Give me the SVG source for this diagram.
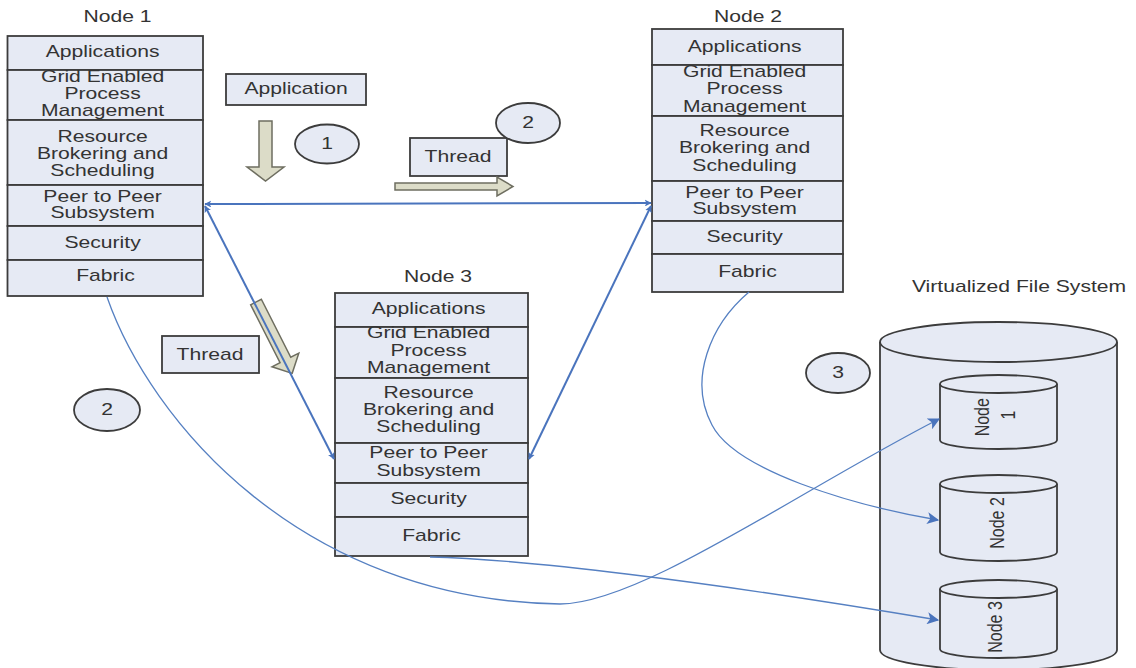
<svg xmlns="http://www.w3.org/2000/svg" width="1136" height="668" viewBox="0 0 1136 668">
  <style>
    .box { fill: #e6eaf4; stroke: #3c3c3c; stroke-width: 1.8; }
    .t { font-family: "Liberation Sans", Arial, sans-serif; font-size: 16px; fill: #333; text-anchor: middle; }
    .fat { fill: #dcdcc8; stroke: #6e6e60; stroke-width: 1.5; stroke-linejoin: miter; }
    .link { fill: none; stroke: #4a74bd; stroke-width: 2; marker-start: url(#head); marker-end: url(#head); }
    .curve { fill: none; stroke: #5680c2; stroke-width: 1.3; marker-end: url(#head2); }
    .disk { fill: #e6eaf4; stroke: #3c3c3c; stroke-width: 1.8; }
  </style>
  <defs>
    <marker id="head" viewBox="0 0 10 10" refX="9" refY="5" markerWidth="7" markerHeight="7" markerUnits="userSpaceOnUse" orient="auto-start-reverse">
      <path d="M0,0 L10,5 L0,10 L2.5,5 Z" fill="#4a74bd"/>
    </marker>
    <marker id="head2" viewBox="0 0 10 10" refX="9" refY="5" markerWidth="14" markerHeight="12" markerUnits="userSpaceOnUse" orient="auto">
      <path d="M0,0 L10,5 L0,10 L2.5,5 Z" fill="#4a74bd"/>
    </marker>
  </defs>

  <rect width="1136" height="668" fill="#ffffff"/>

  <!-- Node 1 layer stack -->
  <g id="node1">
    <text class="t" transform="translate(117.5,0) scale(1.32,1)" x="0" y="22.5">Node 1</text>
    <rect class="box" x="7.5" y="36" width="195.5" height="34"/>
    <rect class="box" x="7.5" y="70" width="195.5" height="50"/>
    <rect class="box" x="7.5" y="120" width="195.5" height="65"/>
    <rect class="box" x="7.5" y="185" width="195.5" height="41"/>
    <rect class="box" x="7.5" y="226" width="195.5" height="34"/>
    <rect class="box" x="7.5" y="260" width="195.5" height="36"/>
    <text class="t" transform="translate(105.5,0) scale(1.32,1)">
      <tspan x="0" y="57.5">Applications</tspan>
      <tspan x="0" y="82.5">Grid Enabled</tspan>
      <tspan x="0" y="99.5">Process</tspan>
      <tspan x="0" y="116.5">Management</tspan>
      <tspan x="0" y="142.5">Resource</tspan>
      <tspan x="0" y="159.5">Brokering and</tspan>
      <tspan x="0" y="176.5">Scheduling</tspan>
      <tspan x="0" y="202">Peer to Peer</tspan>
      <tspan x="0" y="218">Subsystem</tspan>
      <tspan x="0" y="248.5">Security</tspan>
      <tspan x="0" y="281.5">Fabric</tspan>
    </text>
  </g>

  <!-- Node 2 layer stack -->
  <g id="node2">
    <text class="t" transform="translate(748,0) scale(1.32,1)" x="0" y="22.5">Node 2</text>
    <rect class="box" x="652" y="29" width="191" height="36"/>
    <rect class="box" x="652" y="65" width="191" height="51"/>
    <rect class="box" x="652" y="116" width="191" height="65"/>
    <rect class="box" x="652" y="181" width="191" height="40"/>
    <rect class="box" x="652" y="221" width="191" height="33"/>
    <rect class="box" x="652" y="254" width="191" height="38"/>
    <text class="t" transform="translate(747.5,0) scale(1.32,1)">
      <tspan x="0" y="52.5">Applications</tspan>
      <tspan x="0" y="77.5">Grid Enabled</tspan>
      <tspan x="0" y="94.5">Process</tspan>
      <tspan x="0" y="112">Management</tspan>
      <tspan x="0" y="136.5">Resource</tspan>
      <tspan x="0" y="153.5">Brokering and</tspan>
      <tspan x="0" y="171">Scheduling</tspan>
      <tspan x="0" y="198.5">Peer to Peer</tspan>
      <tspan x="0" y="214.5">Subsystem</tspan>
      <tspan x="0" y="242.5">Security</tspan>
      <tspan x="0" y="277.5">Fabric</tspan>
    </text>
  </g>

  <!-- Node 3 layer stack -->
  <g id="node3">
    <text class="t" transform="translate(438,0) scale(1.32,1)" x="0" y="282">Node 3</text>
    <rect class="box" x="335" y="293" width="193" height="34"/>
    <rect class="box" x="335" y="327" width="193" height="51"/>
    <rect class="box" x="335" y="378" width="193" height="65"/>
    <rect class="box" x="335" y="443" width="193" height="40"/>
    <rect class="box" x="335" y="483" width="193" height="34"/>
    <rect class="box" x="335" y="517" width="193" height="39"/>
    <text class="t" transform="translate(431.5,0) scale(1.32,1)">
      <tspan x="0" y="314.5">Applications</tspan>
      <tspan x="0" y="338.5">Grid Enabled</tspan>
      <tspan x="0" y="356">Process</tspan>
      <tspan x="0" y="373.5">Management</tspan>
      <tspan x="0" y="398.5">Resource</tspan>
      <tspan x="0" y="415.5">Brokering and</tspan>
      <tspan x="0" y="432.5">Scheduling</tspan>
      <tspan x="0" y="458.5">Peer to Peer</tspan>
      <tspan x="0" y="476">Subsystem</tspan>
      <tspan x="0" y="504.5">Security</tspan>
      <tspan x="0" y="541.5">Fabric</tspan>
    </text>
  </g>

  <!-- Labels and step markers -->
  <g id="application">
    <rect class="box" x="226" y="74" width="140" height="31"/>
    <text class="t" transform="translate(296,0) scale(1.32,1)" x="0" y="94.5">Application</text>
  </g>
  <g id="thread-top">
    <rect class="box" x="410" y="138" width="97" height="38"/>
    <text class="t" transform="translate(458,0) scale(1.32,1)" x="0" y="162">Thread</text>
  </g>
  <g id="thread-left">
    <rect class="box" x="162" y="336" width="97" height="37"/>
    <text class="t" transform="translate(210,0) scale(1.32,1)" x="0" y="360">Thread</text>
  </g>
  <g id="step1">
    <ellipse class="box" cx="327" cy="144" rx="32" ry="19.5"/>
    <text class="t" transform="translate(327,0) scale(1.32,1)" x="0" y="149.5" font-size="15">1</text>
  </g>
  <g id="step2-top">
    <ellipse class="box" cx="528" cy="123" rx="32" ry="20"/>
    <text class="t" transform="translate(528,0) scale(1.32,1)" x="0" y="128.5" font-size="15">2</text>
  </g>
  <g id="step2-left">
    <ellipse class="box" cx="107" cy="410" rx="33" ry="21"/>
    <text class="t" transform="translate(107,0) scale(1.32,1)" x="0" y="415.5" font-size="15">2</text>
  </g>
  <g id="step3">
    <ellipse class="box" cx="838" cy="373" rx="32" ry="20"/>
    <text class="t" transform="translate(838,0) scale(1.32,1)" x="0" y="378.5" font-size="15">3</text>
  </g>

  <!-- Block arrows showing the flow of work -->
  <g id="flow-arrows">
    <polygon class="fat" points="0,-6.5 46,-6.5 46,-18.5 60,0 46,18.5 46,6.5 0,6.5" transform="translate(265.5,121) rotate(90)"/>
    <polygon class="fat" points="0,-3.5 102,-3.5 102,-9.5 118,0 102,9.5 102,3.5 0,3.5" transform="translate(395,186.5)"/>
    <polygon class="fat" points="0,-6 65,-6 65,-15 80,0 65,15 65,6 0,6" transform="translate(256,302) rotate(63.1)"/>
  </g>

  <!-- Virtualized file system -->
  <g id="vfs">
    <text class="t" transform="translate(1019,0) scale(1.32,1)" x="0" y="292">Virtualized File System</text>
    <path class="disk" d="M880,342 A118.5,20 0 0,1 1117,342 L1117,650 A118.5,20 0 0,1 880,650 Z"/>
    <path class="disk" fill="none" d="M880,342 A118.5,20 0 0,0 1117,342"/>
  </g>
  <g id="vfs-node1">
    <path class="disk" d="M940,384 A58.5,9 0 0,1 1057,384 L1057,440 A58.5,9 0 0,1 940,440 Z"/>
    <path class="disk" d="M940,384 A58.5,9 0 0,0 1057,384"/>
    <text class="t" font-size="14" transform="translate(998,415) scale(1.32,1) rotate(-90)">
      <tspan x="0" y="-6.5">Node</tspan>
      <tspan x="0" y="12.5">1</tspan>
    </text>
  </g>
  <g id="vfs-node2">
    <path class="disk" d="M940,484 A58.5,9 0 0,1 1057,484 L1057,552 A58.5,9 0 0,1 940,552 Z"/>
    <path class="disk" d="M940,484 A58.5,9 0 0,0 1057,484"/>
    <text class="t" font-size="14" transform="translate(998,523) scale(1.32,1) rotate(-90)" x="0" y="4.5">Node 2</text>
  </g>
  <g id="vfs-node3">
    <path class="disk" d="M940,589 A58.5,9 0 0,1 1057,589 L1057,649 A58.5,9 0 0,1 940,649 Z"/>
    <path class="disk" d="M940,589 A58.5,9 0 0,0 1057,589"/>
    <text class="t" font-size="14" transform="translate(998,627) scale(1.32,1) rotate(-90)" x="0" y="3">Node 3</text>
  </g>

  <!-- Connectors -->
  <g id="connectors">
    <path class="link" d="M205,204 L651,203"/>
    <path class="link" d="M205,206 L334,459"/>
    <path class="link" d="M651,206 L529,459"/>
    <path class="curve" d="M107,297 C150,420 300,600 560,604 C640,604 800,490 939,419"/>
    <path class="curve" d="M749,292 C710,325 688,380 712,425 C735,470 850,505 938,520"/>
    <path class="curve" d="M430,557 C520,559 700,580 938,620"/>
  </g>
</svg>
